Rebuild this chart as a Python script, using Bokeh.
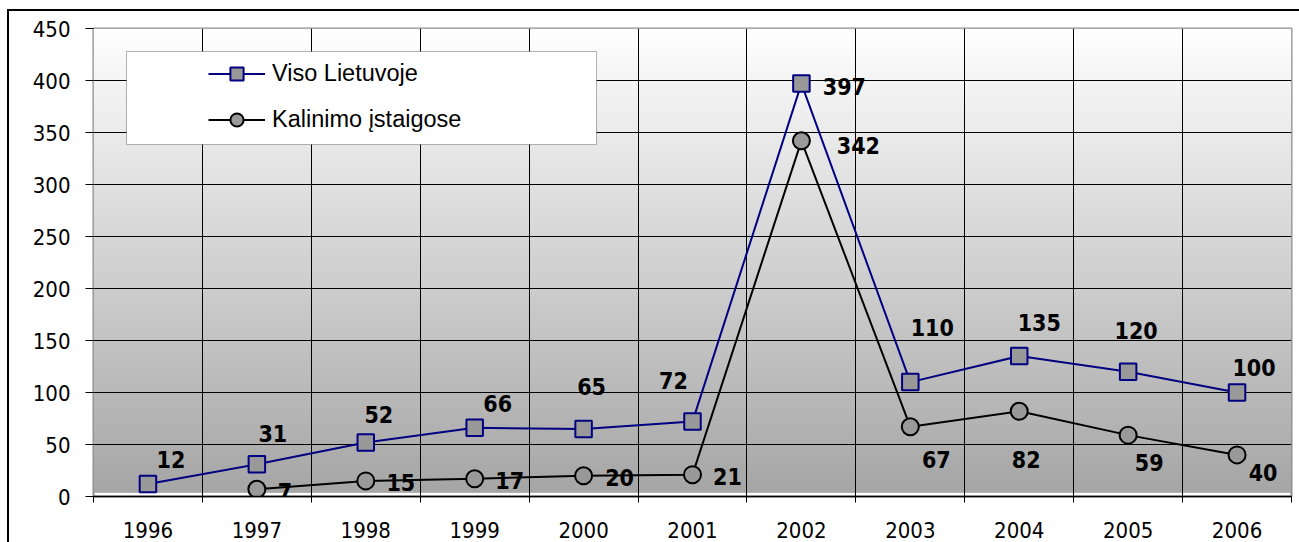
import numpy as np
from bokeh.plotting import figure
from bokeh.models import (ColumnDataSource, Range1d, FixedTicker, Legend, LegendItem,
                          BoxAnnotation)
from bokeh.core.properties import value
from bokeh.embed import file_html
from bokeh.resources import INLINE

# ---- data ----
years = ["1996", "1997", "1998", "1999", "2000", "2001", "2002", "2003", "2004", "2005", "2006"]
viso = [12, 31, 52, 66, 65, 72, 397, 110, 135, 120, 100]
kalinimo = [None, 7, 15, 17, 20, 21, 342, 67, 82, 59, 40]
y_ticks = [0, 50, 100, 150, 200, 250, 300, 350, 400, 450]
series_names = ["Viso Lietuvoje", "Kalinimo įstaigose"]

# label offsets (screen px, style only)
viso_dx = [23, 16, 13, 23, 8, -19, 43, 22, 20, 8, 17]
viso_dy = [-25, -31, -28, -24, -42, -41, 3, -55, -34, -41, -25]
kal_dx = [0, 28, 35, 35, 36, 35, 57, 26, 7, 21, 26]
kal_dy = [0, 2, 2, 2, 2, 2, 5, 33, 48, 27, 18]

n = len(years)
xc = np.arange(n) + 0.5
kal_vals = np.array([np.nan if v is None else v for v in kalinimo], dtype=float)

src_v = ColumnDataSource(dict(x=xc, y=viso, t=[str(v) for v in viso], dx=viso_dx, dy=viso_dy))
mask = ~np.isnan(kal_vals)
src_k = ColumnDataSource(dict(x=xc[mask], y=kal_vals[mask],
                              t=[str(int(v)) for v in kal_vals[mask]],
                              dx=np.array(kal_dx)[mask], dy=np.array(kal_dy)[mask]))

p = figure(width=1299, height=542, output_backend="svg", toolbar_location=None,
           x_range=Range1d(0, n), y_range=Range1d(0, 450),
           min_border_left=93, min_border_right=8, min_border_top=28, min_border_bottom=46,
           background_fill_color="white", border_fill_color=None)
# outer chart border (top and left edges) painted behind the transparent canvas margins
p.styles = {
    "background": ("linear-gradient(#000, #000) 7px 9px / 2px calc(100% - 9px) no-repeat, "
                   "linear-gradient(#000, #000) 7px 9px / calc(100% - 7px) 2px no-repeat, #fff")
}

p.outline_line_color = "#8c8c8c"
p.outline_line_width = 2

# gradient background of plot area
N = 470
top = np.array([255, 255, 255], dtype=float)
bot = np.array([166, 166, 166], dtype=float)
tt = np.linspace(0, 1, N)[:, None]
cols = (bot + (top - bot) * tt).astype(np.uint32)
img = np.empty((N, 1), dtype=np.uint32)
view = img.view(dtype=np.uint8).reshape((N, 1, 4))
view[:, 0, 0] = cols[:, 0]
view[:, 0, 1] = cols[:, 1]
view[:, 0, 2] = cols[:, 2]
view[:, 0, 3] = 255
bg = p.image_rgba(image=[img], x=0, y=3.5, dw=n, dh=446.5)
bg.level = "image"

# axes
xax = p.xaxis[0]
xax.ticker = FixedTicker(ticks=list(xc), minor_ticks=list(range(n + 1)))
xax.major_label_overrides = {float(x): y for x, y in zip(xc, years)}
xax.major_tick_line_color = None
xax.major_tick_out = 0
xax.major_tick_in = 0
xax.minor_tick_line_color = "black"
xax.minor_tick_out = 6
xax.minor_tick_in = 0
xax.axis_line_color = "black"
xax.axis_line_width = 1.5
xax.major_label_standoff = 19
xax.major_label_text_font = "DejaVu Sans Condensed"
xax.major_label_text_font_size = "22px"
xax.major_label_text_color = "black"

yax = p.yaxis[0]
yax.ticker = FixedTicker(ticks=y_ticks)
yax.axis_line_color = None
yax.major_tick_line_color = "black"
yax.major_tick_out = 8
yax.major_tick_in = 0
yax.minor_tick_line_color = None
yax.major_label_standoff = 15
yax.major_label_text_font = "DejaVu Sans Condensed"
yax.major_label_text_font_size = "22px"
yax.major_label_text_color = "black"

p.xgrid.ticker = FixedTicker(ticks=list(range(1, n)))
p.xgrid.grid_line_color = "black"
p.xgrid.grid_line_width = 1
p.ygrid.ticker = FixedTicker(ticks=y_ticks[1:-1])
p.ygrid.grid_line_color = "black"
p.ygrid.grid_line_width = 1

# series
l1 = p.line("x", "y", source=src_v, line_color="#000080", line_width=2)
s1 = p.scatter("x", "y", source=src_v, marker="square", size=16.5,
               fill_color="#999999", line_color="#000080", line_width=2)
l2 = p.line(xc, kal_vals, line_color="black", line_width=2)
s2 = p.scatter("x", "y", source=src_k, marker="circle", size=17,
               fill_color="#999999", line_color="black", line_width=2)

for src in (src_v, src_k):
    p.text("x", "y", text="t", source=src, x_offset="dx", y_offset="dy",
           text_font=value("DejaVu Sans Condensed"), text_font_style="bold",
           text_font_size="23px", text_color="black",
           text_align="center", text_baseline="middle")

# legend box
box = BoxAnnotation(left=0.303, right=4.619, top=427.9, bottom=338.5,
                    fill_color="white", fill_alpha=1.0, line_color="black", line_width=1)
p.add_layout(box)

legend = Legend(items=[LegendItem(label=series_names[0], renderers=[l1, s1]),
                       LegendItem(label=series_names[1], renderers=[l2, s2])],
                location=(115, 360), glyph_width=57, glyph_height=33, label_standoff=7,
                spacing=13, padding=0, margin=0, border_line_color=None,
                background_fill_alpha=0,
                label_text_font="Liberation Sans", label_text_font_size="23.5px",
                label_text_color="black")
p.add_layout(legend, "center")

open("out.html", "w").write(file_html(p, INLINE))
